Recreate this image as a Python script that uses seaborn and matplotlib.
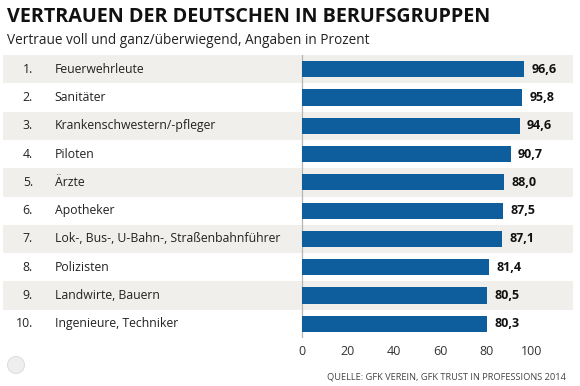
import matplotlib
matplotlib.use("Agg")
import matplotlib.pyplot as plt
import seaborn as sns
import pandas as pd
from matplotlib.patches import Ellipse

# data
ranks = ["1.", "2.", "3.", "4.", "5.", "6.", "7.", "8.", "9.", "10."]
berufe = ["Feuerwehrleute", "Sanitäter", "Krankenschwestern/-pfleger", "Piloten",
          "Ärzte", "Apotheker", "Lok-, Bus-, U-Bahn-, Straßenbahnführer",
          "Polizisten", "Landwirte, Bauern", "Ingenieure, Techniker"]
werte = [96.6, 95.8, 94.6, 90.7, 88.0, 87.5, 87.1, 81.4, 80.5, 80.3]
xticks = [0, 20, 40, 60, 80, 100]

df = pd.DataFrame({"beruf": berufe, "wert": werte})

sns.set_style("white")
plt.rcParams["font.family"] = ["Open Sans", "DejaVu Sans"]

fig = plt.figure(figsize=(5.8, 3.86), dpi=100)
ax = fig.add_axes([3 / 580, 48 / 386, 570 / 580, 283 / 386])

# stripes
for i in range(len(berufe)):
    if i % 2 == 0:
        ax.axhspan(i - 0.5, i + 0.5, color="#f1efeb", lw=0, zorder=0)

sns.barplot(data=df, x="wert", y="beruf", orient="h", color="#0e5e9e",
            width=0.57, saturation=1, linewidth=0, edgecolor="none", ax=ax, zorder=3)

ax.set_xlim(-130, 117.8)
ax.set_ylim(9.5, -0.5)
ax.axvline(0, color="#b5b5b5", lw=0.9, zorder=2)

for i, (r, b, w) in enumerate(zip(ranks, berufe, werte)):
    ax.text(-117, i, r, ha="right", va="center", fontsize=8.8, color="#222222")
    ax.text(-107.5, i, b, ha="left", va="center", fontsize=8.8, color="#222222")
    ax.text(w + 3.2, i, f"{w:.1f}".replace(".", ","), ha="left", va="center",
            fontsize=9, fontweight="bold", color="#111111")

ax.set_xticks(xticks)
ax.set_xticklabels([str(t) for t in xticks], fontsize=9, color="#333333")
ax.tick_params(axis="x", length=0, pad=5)
ax.set_yticks([])
ax.set_xlabel("")
ax.set_ylabel("")
for s in ax.spines.values():
    s.set_visible(False)

fig.text(7 / 580, 1 - 17 / 386, "VERTRAUEN DER DEUTSCHEN IN BERUFSGRUPPEN",
         fontsize=14.2, fontweight="bold", color="#111111", va="center", ha="left")
fig.text(7 / 580, 1 - 41 / 386, "Vertraue voll und ganz/überwiegend, Angaben in Prozent",
         fontsize=9.8, color="#222222", va="center", ha="left")
fig.text(566 / 580, 1 - 377 / 386, "QUELLE: GFK VEREIN, GFK TRUST IN PROFESSIONS 2014",
         fontsize=6.7, color="#444444", va="center", ha="right")

fig.patches.append(Ellipse((16 / 580, 1 - 365 / 386), 17 / 580, 17 / 386,
                           transform=fig.transFigure, facecolor="#eeeeee",
                           edgecolor="#d8d8d8", lw=0.6))

fig.savefig("out.png", dpi=100)
